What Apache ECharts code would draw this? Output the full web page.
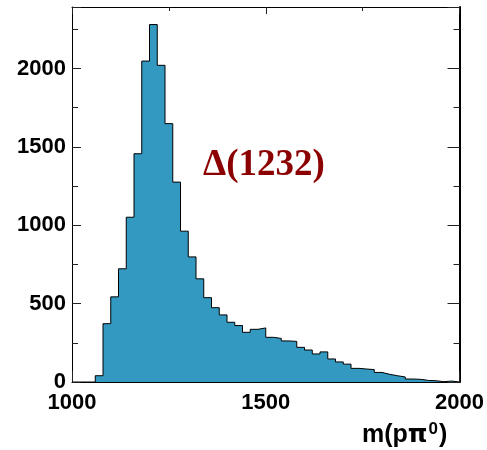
<!DOCTYPE html>
<html>
<head>
<meta charset="utf-8">
<script src="https://cdn.jsdelivr.net/npm/echarts@6/dist/echarts.min.js"></script>
<style>
html,body{margin:0;padding:0;background:#fff;}
#chart{width:487px;height:450px;}
</style>
</head>
<body>
<div id="chart"></div>
<script>
// Bin lower edges (MeV), bin width 20
var binLow = [1000,1020,1040,1060,1080,1100,1120,1140,1160,1180,
              1200,1220,1240,1260,1280,1300,1320,1340,1360,1380,
              1400,1420,1440,1460,1480,1500,1520,1540,1560,1580,
              1600,1620,1640,1660,1680,1700,1720,1740,1760,1780,
              1800,1820,1840,1860,1880,1900,1920,1940,1960,1980];
var binHigh = 2000;
// Counts per bin
var counts = [0,0,0,40,372,543,722,1051,1456,2047,
              2280,2020,1648,1275,962,798,658,538,474,428,
              381,360,317,336,345,285,278,262,259,221,
              204,179,192,147,128,114,87,83,79,61,
              49,40,32,19,17,10,8,2,6,0];
var xTickLabels = ['1000','1500','2000'];
var yTickLabels = ['0','500','1000','1500','2000'];
var xTitleParts = ['m(p', '\u03C0', '0', ')'];
var peakLabel = '\u0394(1232)';

var stepData = [];
for (var i = 0; i < binLow.length; i++) stepData.push([binLow[i], counts[i]]);
stepData.push([binHigh, counts[counts.length - 1]]);

var chart = echarts.init(document.getElementById('chart'), null, {renderer: 'canvas'});
var labelFont = {fontFamily: 'Liberation Sans, Arial, sans-serif', fontWeight: 'bold', fontSize: 22, color: '#000'};

function showLabel(list) {
  return function (v) { var s = String(v); return list.indexOf(s) >= 0 ? s : ''; };
}

chart.setOption({
  backgroundColor: '#fff',
  animation: false,
  grid: {left: 72, right: 27, top: 7, bottom: 68, show: false},
  xAxis: [{
    type: 'value', min: 1000, max: 2000, interval: 500, position: 'bottom',
    axisLine: {show: true, onZero: false, lineStyle: {color: '#000', width: 1}},
    axisTick: {show: true, inside: true, length: 11, lineStyle: {color: '#222', width: 1}},
    minorTick: {show: true, splitNumber: 2, length: 6, lineStyle: {color: '#222', width: 1}},
    splitLine: {show: false},
    axisLabel: Object.assign({margin: 10, formatter: showLabel(xTickLabels)}, labelFont)
  }, {
    type: 'value', min: 1000, max: 2000, interval: 500, position: 'top',
    axisLine: {show: true, onZero: false, lineStyle: {color: '#000', width: 1}},
    axisTick: {show: true, inside: true, length: 7, lineStyle: {color: '#222', width: 1}},
    minorTick: {show: true, splitNumber: 2, length: 4, lineStyle: {color: '#222', width: 1}},
    splitLine: {show: false},
    axisLabel: {show: false}
  }],
  yAxis: [{
    type: 'value', min: 0, max: 2392, interval: 500, position: 'left',
    axisLine: {show: true, onZero: false, lineStyle: {color: '#000', width: 1}},
    axisTick: {show: true, inside: true, length: 9, lineStyle: {color: '#222', width: 1}},
    minorTick: {show: true, splitNumber: 2, length: 6, lineStyle: {color: '#222', width: 1}},
    splitLine: {show: false},
    axisLabel: Object.assign({margin: 6, formatter: showLabel(yTickLabels), showMaxLabel: false}, labelFont)
  }, {
    type: 'value', min: 0, max: 2392, interval: 500, position: 'right',
    axisLine: {show: true, onZero: false, lineStyle: {color: '#000', width: 2}},
    axisTick: {show: true, inside: true, length: 12, lineStyle: {color: '#222', width: 1}},
    minorTick: {show: true, splitNumber: 2, length: 6, lineStyle: {color: '#222', width: 1}},
    splitLine: {show: false},
    axisLabel: {show: false}
  }],
  series: [{
    type: 'line',
    step: 'end',
    xAxisIndex: 0, yAxisIndex: 0,
    data: stepData,
    symbol: 'none',
    lineStyle: {color: '#000', width: 1},
    areaStyle: {color: '#3399C1', opacity: 1, origin: 'start'},
    z: 1
  }],
  graphic: [{
    type: 'text', left: 203, top: 147,
    style: {text: peakLabel, fontFamily: 'Liberation Serif, Times New Roman, serif', fontWeight: 'bold', fontSize: 37, fill: '#8B0000'}
  }, {
    type: 'text', left: 362, top: 421,
    style: {
      text: '{a|' + xTitleParts[0] + '}{b|' + xTitleParts[1] + '}{s|' + xTitleParts[2] + '}{a|' + xTitleParts[3] + '}',
      fill: '#000',
      rich: {
        a: {fontFamily: 'Liberation Sans, Arial, sans-serif', fontWeight: 'bold', fontSize: 25, lineHeight: 28, fill: '#000'},
        b: {fontFamily: 'DejaVu Sans, sans-serif', fontWeight: 'bold', fontSize: 25, lineHeight: 28, fill: '#000', padding: [0, 1, 0, 0]},
        s: {fontFamily: 'Liberation Sans, Arial, sans-serif', fontWeight: 'bold', fontSize: 17, lineHeight: 17, verticalAlign: 'top', fill: '#000', padding: [0, 1, 0, 0]}
      }
    }
  }]
});
</script>
</body>
</html>
